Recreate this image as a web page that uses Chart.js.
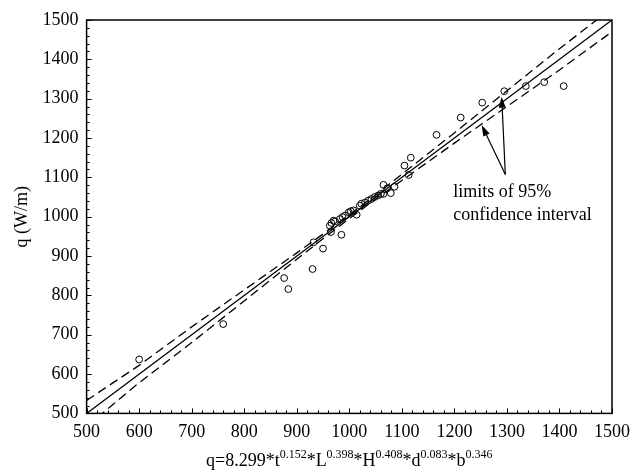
<!DOCTYPE html>
<html>
<head>
<meta charset="utf-8">
<script src="https://cdn.jsdelivr.net/npm/chart.js@4.4.1/dist/chart.umd.min.js"></script>
<style>
  body { margin: 0; background: #fff; }
  #wrap { width: 643px; height: 476px; }
</style>
</head>
<body>
<div id="wrap"><canvas id="qChart"></canvas></div>
<script>
// measured points (x = calculated q, y = measured q), W/m
const calcQ = [600, 760, 876, 884, 930, 932, 950, 963, 965, 966, 970, 973, 982, 985, 987, 992, 999, 1003, 1008, 1014,
  1020, 1023, 1030, 1036, 1042, 1048, 1055, 1060, 1065, 1065, 1072, 1079, 1086, 1105, 1113, 1117, 1166, 1212, 1253,
  1295, 1336, 1371, 1408];
const measQ = [637, 727, 844, 816, 867, 935, 919, 977, 961, 984, 990, 988, 994, 954, 999, 1003, 1011, 1014, 1016, 1005,
  1028, 1033, 1036, 1041, 1045, 1050, 1054, 1058, 1058, 1081, 1072, 1060, 1076, 1130, 1106, 1150, 1208, 1252, 1290,
  1319, 1332, 1342, 1332];

// regression line and 95% confidence limits
const fitX = [500, 1500];
const fitY = [500, 1500];
const limX = [500, 600, 700, 800, 900, 950, 1000, 1050, 1100, 1200, 1300, 1400, 1500];
const upperY = [533, 622, 720, 814, 908, 956, 1005, 1055, 1108, 1213, 1320, 1427, 1530];
const lowerY = [467, 578, 680, 786, 892, 944, 995, 1045, 1092, 1187, 1280, 1373, 1470];

const axisMin = 500;
const axisMax = 1500;
const majorStep = 100;
const minorStep = 20;

const noteLines = ['limits of 95%', 'confidence interval'];
const yTitle = 'q (W/m)';
// formula pieces: [text, superscript?]
const formula = [['q=8.299*t', false], ['0.152', true], ['*L', false], ['0.398', true], ['*H', false], ['0.408', true],
  ['*d', false], ['0.083', true], ['*b', false], ['0.346', true]];

const serif = '"Liberation Serif", "Times New Roman", serif';

function pts(xs, ys) {
  return xs.map((x, i) => ({ x: x, y: ys[i] }));
}

function arrow(ctx, x1, y1, x2, y2) {
  const a = Math.atan2(y2 - y1, x2 - x1);
  const len = 11, half = 3.5;
  ctx.beginPath();
  ctx.moveTo(x1, y1);
  ctx.lineTo(x2 - Math.cos(a) * len * 0.8, y2 - Math.sin(a) * len * 0.8);
  ctx.stroke();
  ctx.beginPath();
  ctx.moveTo(x2, y2);
  ctx.lineTo(x2 - Math.cos(a) * len + Math.sin(a) * half, y2 - Math.sin(a) * len - Math.cos(a) * half);
  ctx.lineTo(x2 - Math.cos(a) * len - Math.sin(a) * half, y2 - Math.sin(a) * len + Math.cos(a) * half);
  ctx.closePath();
  ctx.fill();
}

const extras = {
  id: 'extras',
  afterDraw(chart) {
    const ctx = chart.ctx;
    const area = chart.chartArea;
    const xs = chart.scales.x, ys = chart.scales.y;
    ctx.save();
    ctx.strokeStyle = '#000';
    ctx.fillStyle = '#000';

    // frame
    ctx.lineWidth = 1.5;
    ctx.strokeRect(area.left, area.top, area.right - area.left, area.bottom - area.top);

    // inward ticks on bottom and left axes
    ctx.lineWidth = 1;
    ctx.beginPath();
    for (let v = axisMin; v <= axisMax; v += minorStep) {
      const len = (v % majorStep === 0) ? 5 : 3;
      const px = Math.round(xs.getPixelForValue(v)) + 0.5;
      ctx.moveTo(px, area.bottom);
      ctx.lineTo(px, area.bottom - len);
      const py = Math.round(ys.getPixelForValue(v)) + 0.5;
      ctx.moveTo(area.left, py);
      ctx.lineTo(area.left + len, py);
    }
    ctx.stroke();

    // annotation arrows
    ctx.lineWidth = 1.2;
    const ox = xs.getPixelForValue(1297), oy = ys.getPixelForValue(1107);
    arrow(ctx, ox, oy, xs.getPixelForValue(1252), ys.getPixelForValue(1233));
    arrow(ctx, ox, oy, xs.getPixelForValue(1290), ys.getPixelForValue(1305));

    // annotation text
    ctx.font = '18px ' + serif;
    ctx.textAlign = 'left';
    ctx.textBaseline = 'alphabetic';
    const tx = xs.getPixelForValue(1198);
    ctx.fillText(noteLines[0], tx, ys.getPixelForValue(1050));
    ctx.fillText(noteLines[1], tx, ys.getPixelForValue(991));

    // x axis formula with superscripts
    const mainFont = '18px ' + serif, supFont = '12px ' + serif;
    let total = 0;
    formula.forEach(([t, sup]) => {
      ctx.font = sup ? supFont : mainFont;
      total += ctx.measureText(t).width;
    });
    let cx = (area.left + area.right) / 2 - total / 2;
    const base = 466;
    formula.forEach(([t, sup]) => {
      ctx.font = sup ? supFont : mainFont;
      ctx.fillText(t, cx, sup ? base - 8 : base);
      cx += ctx.measureText(t).width;
    });
    ctx.restore();
  }
};

const lineStyle = {
  type: 'scatter', showLine: true, pointRadius: 0, borderColor: '#000', borderWidth: 1.3, clip: 0, tension: 0
};

const plainTick = (v) => String(v);

new Chart(document.getElementById('qChart'), {
  type: 'scatter',
  data: {
    datasets: [
      Object.assign({ label: 'fit', data: pts(fitX, fitY) }, lineStyle),
      Object.assign({ label: 'upper 95%', data: pts(limX, upperY), borderDash: [9, 5] }, lineStyle),
      Object.assign({ label: 'lower 95%', data: pts(limX, lowerY), borderDash: [9, 5] }, lineStyle),
      {
        label: 'data',
        data: pts(calcQ, measQ),
        pointStyle: 'circle',
        pointRadius: 3.4,
        borderWidth: 1,
        borderColor: '#000',
        backgroundColor: 'rgba(255,255,255,0)',
        clip: false
      }
    ]
  },
  options: {
    responsive: true,
    maintainAspectRatio: false,
    animation: false,
    events: [],
    layout: { padding: { left: 11, top: 20, right: 31, bottom: 25 } },
    plugins: { legend: { display: false }, tooltip: { enabled: false } },
    scales: {
      x: {
        type: 'linear', min: axisMin, max: axisMax,
        grid: { display: false, drawTicks: false },
        border: { display: false },
        ticks: { stepSize: majorStep, color: '#000', padding: 8, font: { family: serif, size: 18 }, callback: plainTick }
      },
      y: {
        type: 'linear', min: axisMin, max: axisMax,
        grid: { display: false, drawTicks: false },
        border: { display: false },
        title: {
          display: true, text: yTitle, color: '#000',
          font: { family: serif, size: 18 }, padding: { top: 0, bottom: 2 }
        },
        ticks: { stepSize: majorStep, color: '#000', padding: 8, font: { family: serif, size: 18 }, callback: plainTick }
      }
    }
  },
  plugins: [extras]
});
</script>
</body>
</html>
